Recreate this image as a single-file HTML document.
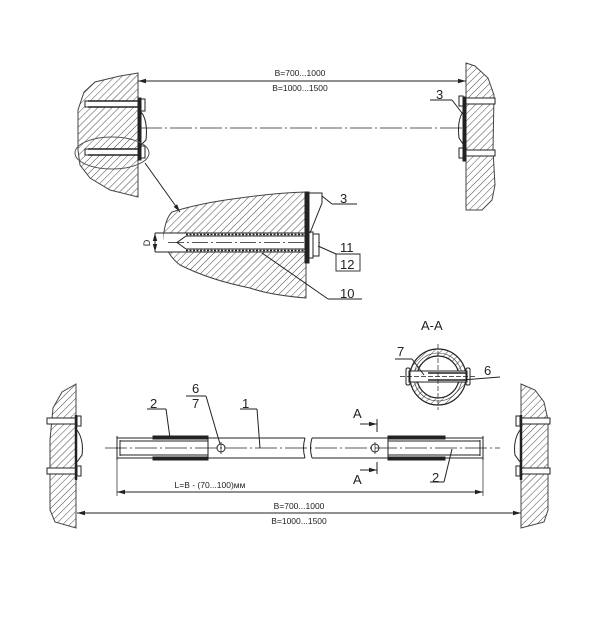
<!DOCTYPE html>
<html><head><meta charset="utf-8"><style>
html,body{margin:0;padding:0;background:#fff;}
svg{display:block;}
text{font-family:"Liberation Sans",sans-serif;fill:#222;}
</style></head><body>
<svg width="606" height="619" viewBox="0 0 606 619" xmlns="http://www.w3.org/2000/svg">
<defs>
<pattern id="h" width="5" height="5" patternUnits="userSpaceOnUse" patternTransform="rotate(45)">
<line x1="0" y1="0" x2="0" y2="5" stroke="#333" stroke-width="0.9"/>
</pattern>
<marker id="ar" markerWidth="8" markerHeight="6" refX="8" refY="3" orient="auto" markerUnits="userSpaceOnUse"><path d="M0,0.8 L8,3 L0,5.2z" fill="#222"/></marker>
<marker id="al" markerWidth="8" markerHeight="6" refX="0" refY="3" orient="auto" markerUnits="userSpaceOnUse"><path d="M8,0.8 L0,3 L8,5.2z" fill="#222"/></marker>
</defs>
<g stroke="#222" fill="none" stroke-width="1">

<path d="M138,73 L120,76 L95,82 L84,92 L78,110 L78,150 L80,165 L90,178 L110,190 L138,197 Z" fill="url(#h)" stroke="#444"/>
<rect x="85" y="101" width="53" height="6" fill="#fff"/>
<rect x="85" y="149" width="53" height="6" fill="#fff"/>
<line x1="88" y1="101" x2="138" y2="101" stroke-width="1.5"/><line x1="88" y1="107" x2="138" y2="107" stroke-width="1.5"/>
<line x1="88" y1="149" x2="138" y2="149" stroke-width="1.5"/><line x1="88" y1="155" x2="138" y2="155" stroke-width="1.5"/>
<rect x="138" y="98" width="3" height="62" fill="#222"/>
<rect x="141" y="99" width="4" height="12" fill="#fff"/>
<rect x="141" y="146" width="4" height="12" fill="#fff"/>
<path d="M141,112 Q148,120 146,140 L141,145"/>
<ellipse cx="112" cy="153" rx="37" ry="16" stroke="#555"/>
<path d="M145,163 L180,212" marker-end="url(#ar)"/>

<path d="M466,63 L475,66 L488,78 L494,95 L493,150 L495,185 L492,200 L482,210 L466,210 Z" fill="url(#h)" stroke="#444"/>
<rect x="466" y="98" width="29" height="6" fill="#fff"/><rect x="466" y="150" width="29" height="6" fill="#fff"/>
<line x1="466" y1="98" x2="494" y2="98" stroke-dasharray="8,2"/><line x1="466" y1="104" x2="494" y2="104" stroke-dasharray="8,2"/>
<line x1="466" y1="150" x2="494" y2="150" stroke-dasharray="8,2"/><line x1="466" y1="156" x2="494" y2="156" stroke-dasharray="8,2"/>
<rect x="463" y="97" width="3" height="64" fill="#222"/>
<rect x="459" y="96" width="4" height="10" fill="#fff"/><rect x="459" y="148" width="4" height="10" fill="#fff"/>
<path d="M463,112 Q457,120 459,138 L463,144"/>
<line x1="430" y1="100" x2="452" y2="100"/><line x1="452" y1="100" x2="462" y2="113"/>

<line x1="138" y1="81" x2="466" y2="81" marker-start="url(#al)" marker-end="url(#ar)"/>
<line x1="140" y1="128" x2="462" y2="128" stroke-dasharray="22,3,2,3" stroke-width="0.8"/>

<path d="M172,212 Q200,203 240,198 Q275,193 306,192 L306,298 Q270,295 250,288 Q210,280 180,265 Q163,252 164,232 Q166,218 172,212 Z" fill="url(#h)" stroke="#444"/>
<rect x="164" y="233" width="142" height="19" fill="#fff" stroke="none"/>
<line x1="164" y1="233" x2="306" y2="233"/><line x1="164" y1="252" x2="306" y2="252"/>
<path d="M186,236 L305,236 M186,249 L305,249 M186,236 L177,242.5 L186,249" />
<line x1="186" y1="234.5" x2="305" y2="234.5" stroke-dasharray="2,1.5" stroke-width="1.5"/>
<line x1="186" y1="250.5" x2="305" y2="250.5" stroke-dasharray="2,1.5" stroke-width="1.5"/>
<line x1="168" y1="242.5" x2="320" y2="242.5" stroke-dasharray="16,3,2,3" stroke-width="0.7"/>
<rect x="305" y="192" width="4" height="71" fill="#222"/>
<rect x="309" y="232" width="4" height="26" fill="#fff"/>
<rect x="313" y="234" width="6" height="22" fill="#fff"/>
<path d="M309,193 L322,193 L322,203 L310,233"/>
<line x1="322" y1="196" x2="332" y2="204"/><line x1="332" y1="204" x2="357" y2="204"/>
<line x1="318" y1="246" x2="336" y2="254"/><line x1="336" y1="254" x2="360" y2="254"/>
<rect x="336" y="254" width="24" height="17" stroke-width="0.9"/>
<line x1="262" y1="253" x2="328" y2="299"/><line x1="328" y1="299" x2="362" y2="299"/>
<line x1="155" y1="233" x2="164" y2="233"/><line x1="155" y1="252" x2="164" y2="252"/>
<line x1="155" y1="233" x2="155" y2="252" marker-start="url(#al)" marker-end="url(#ar)"/>

<path d="M76,384 L62,392 L53,408 L50,440 L50,510 L55,522 L76,528 Z" fill="url(#h)" stroke="#444"/>
<rect x="47" y="418" width="29" height="6" fill="#fff"/><rect x="47" y="468" width="29" height="6" fill="#fff"/>
<line x1="47" y1="418" x2="76" y2="418" stroke-dasharray="8,2"/><line x1="47" y1="424" x2="76" y2="424" stroke-dasharray="8,2"/>
<line x1="47" y1="468" x2="76" y2="468" stroke-dasharray="8,2"/><line x1="47" y1="474" x2="76" y2="474" stroke-dasharray="8,2"/>
<line x1="76" y1="415" x2="76" y2="480" stroke-width="2.5"/>
<rect x="77" y="416" width="4" height="10" fill="#fff"/><rect x="77" y="466" width="4" height="10" fill="#fff"/>
<path d="M77,430 Q84,440 82,455 L77,462"/>

<path d="M521,384 L535,390 L544,402 L548,420 L548,510 L544,522 L521,528 Z" fill="url(#h)" stroke="#444"/>
<rect x="521" y="418" width="29" height="6" fill="#fff"/><rect x="521" y="468" width="29" height="6" fill="#fff"/>
<line x1="521" y1="418" x2="550" y2="418" stroke-dasharray="8,2"/><line x1="521" y1="424" x2="550" y2="424" stroke-dasharray="8,2"/>
<line x1="521" y1="468" x2="550" y2="468" stroke-dasharray="8,2"/><line x1="521" y1="474" x2="550" y2="474" stroke-dasharray="8,2"/>
<line x1="521" y1="415" x2="521" y2="480" stroke-width="2.5"/>
<rect x="516" y="416" width="4" height="10" fill="#fff"/><rect x="516" y="466" width="4" height="10" fill="#fff"/>
<path d="M520,430 Q513,440 515,455 L520,462"/>

<path d="M117,438 L305,438 M117,458 L305,458 M312,438 L483,438 M312,458 L483,458"/>
<path d="M305,438 Q302,448 305,458 M312,438 Q309,448 312,458"/>
<line x1="117" y1="436" x2="117" y2="460"/><line x1="120" y1="440" x2="120" y2="456"/>
<line x1="483" y1="436" x2="483" y2="460"/><line x1="480" y1="440" x2="480" y2="456"/>
<path d="M120,441 L208,441 M120,455 L208,455 M208,438 L208,458"/>
<path d="M388,441 L480,441 M388,455 L480,455 M388,438 L388,458"/>
<rect x="153" y="436" width="55" height="3" fill="#222"/><rect x="153" y="457" width="55" height="3" fill="#222"/>
<rect x="388" y="436" width="57" height="3" fill="#222"/><rect x="388" y="457" width="57" height="3" fill="#222"/>
<line x1="105" y1="448" x2="500" y2="448" stroke-dasharray="22,3,2,3" stroke-width="0.7"/>
<circle cx="221" cy="448" r="4"/><line x1="221" y1="442" x2="221" y2="454" stroke-width="0.7"/>
<circle cx="375" cy="448" r="4"/><line x1="375" y1="442" x2="375" y2="454" stroke-width="0.7"/>
<line x1="377" y1="419" x2="377" y2="432"/><line x1="377" y1="462" x2="377" y2="474"/>
<line x1="360" y1="424" x2="377" y2="424" marker-end="url(#ar)"/>
<line x1="360" y1="470" x2="377" y2="470" marker-end="url(#ar)"/>
<line x1="147" y1="409" x2="166" y2="409"/><line x1="166" y1="409" x2="170" y2="438"/>
<line x1="186" y1="396" x2="206" y2="396"/><line x1="206" y1="396" x2="220" y2="444"/>
<line x1="240" y1="409" x2="257" y2="409"/><line x1="257" y1="409" x2="260" y2="448"/>
<line x1="430" y1="482" x2="444" y2="482"/><line x1="444" y1="482" x2="452" y2="449"/>
<line x1="117" y1="460" x2="117" y2="496" stroke-width="0.7"/><line x1="483" y1="460" x2="483" y2="496" stroke-width="0.7"/>
<line x1="117" y1="492" x2="483" y2="492" marker-start="url(#al)" marker-end="url(#ar)"/>
<line x1="77" y1="513" x2="521" y2="513" marker-start="url(#al)" marker-end="url(#ar)"/>

<circle cx="438" cy="377" r="28" fill="url(#h)" stroke-width="1.2"/>
<circle cx="438" cy="377" r="21" fill="#fff" stroke-width="1.2"/>
<circle cx="438" cy="377" r="24" stroke-width="0.6"/>
<rect x="409" y="371" width="58" height="11" fill="#fff"/>
<rect x="406" y="368" width="4" height="17" rx="1.5"/><rect x="466" y="368" width="4" height="17" rx="1.5"/>
<line x1="410" y1="371" x2="466" y2="371"/><line x1="410" y1="382" x2="466" y2="382"/>
<line x1="428" y1="373" x2="466" y2="373" stroke-width="1.5"/><line x1="428" y1="380" x2="466" y2="380" stroke-width="1.5"/>
<line x1="438" y1="344" x2="438" y2="410" stroke-dasharray="5,2" stroke-width="0.7"/>
<line x1="400" y1="376.5" x2="476" y2="376.5" stroke-dasharray="5,2" stroke-width="0.7"/>
<line x1="395" y1="359" x2="412" y2="359"/><line x1="412" y1="359" x2="424" y2="375"/>
<line x1="462" y1="380" x2="500" y2="377"/>
</g>
<g font-size="8.5" text-anchor="middle">
<text x="300" y="76">B=700...1000</text>
<text x="300" y="91">B=1000...1500</text>
<text x="210" y="488">L=B - (70...100)мм</text>
<text x="299" y="509">B=700...1000</text>
<text x="299" y="524">B=1000...1500</text>
</g>
<g font-size="13">
<text x="436" y="99">3</text>
<text x="340" y="203">3</text>
<text x="340" y="252">11</text>
<text x="340" y="269">12</text>
<text x="340" y="298">10</text>
<text x="150" y="408">2</text>
<text x="192" y="393">6</text>
<text x="192" y="408">7</text>
<text x="242" y="408">1</text>
<text x="353" y="418">A</text>
<text x="353" y="484">A</text>
<text x="432" y="482">2</text>
<text x="421" y="330">A-A</text>
<text x="397" y="356">7</text>
<text x="484" y="375">6</text>
<text x="146" y="247" font-size="9" transform="rotate(-90 146 243)" text-anchor="middle">D</text>
</g>
</svg>
</body></html>
